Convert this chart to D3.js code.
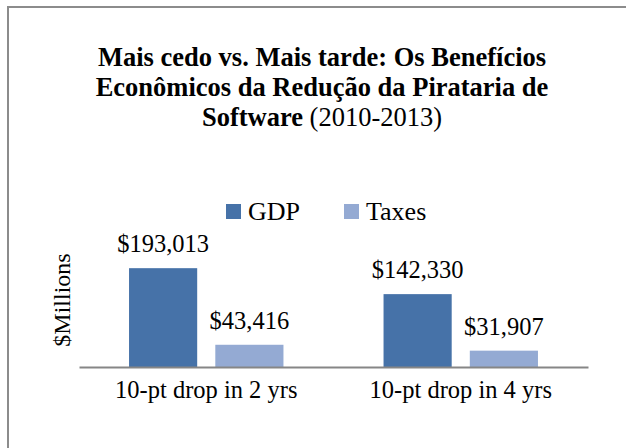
<!DOCTYPE html>
<html>
<head>
<meta charset="utf-8">
<script src="https://cdn.jsdelivr.net/npm/d3@7"></script>
<style>
  body { margin: 0; background: #fff; }
  text { font-family: "Liberation Serif", serif; fill: #000; }
</style>
</head>
<body>
<div id="vis"></div>
<script>
const categorias = ["10-pt drop in 2 yrs", "10-pt drop in 4 yrs"];
const series = ["GDP", "Taxes"];
const valoresGDP = [193013, 142330];
const valoresTaxes = [43416, 31907];
const etiquetas = ["$193,013", "$142,330", "$43,416", "$31,907"];
const colores = ["#4672a8", "#94aad3"];

const WIDTH = 626;
const HEIGHT = 448;

const SVG = d3.select("#vis").append("svg")
  .attr("width", WIDTH)
  .attr("height", HEIGHT);

// marco del grafico (sale del lienzo a la derecha y abajo)
SVG.append("rect")
  .attr("x", 8)
  .attr("y", 7)
  .attr("width", 640)
  .attr("height", 460)
  .attr("fill", "none")
  .attr("stroke", "#8c8c8c")
  .attr("stroke-width", 2);

// titulo
const titulo = SVG.append("text")
  .attr("text-anchor", "middle")
  .style("font-size", "26.5px");

titulo.append("tspan").attr("x", 322).attr("y", 66)
  .style("font-weight", "bold")
  .text("Mais cedo vs. Mais tarde: Os Benefícios");
titulo.append("tspan").attr("x", 322).attr("y", 96)
  .style("font-weight", "bold")
  .text("Econômicos da Redução da Pirataria de");
const linea3 = titulo.append("tspan").attr("x", 322).attr("y", 126);
linea3.append("tspan").style("font-weight", "bold").text("Software");
linea3.append("tspan").text(" (2010-2013)");

const datos = categorias.map((c, i) => ({
  categoria: c,
  valores: [
    { serie: "GDP", valor: valoresGDP[i], etiqueta: etiquetas[i] },
    { serie: "Taxes", valor: valoresTaxes[i], etiqueta: etiquetas[i + 2] }
  ]
}));

const MARGINS = { LEFT: 79, RIGHT: 588, TOP: 239, BOTTOM: 367 };

const escalaX0 = d3.scaleBand()
  .domain(categorias)
  .range([MARGINS.LEFT, MARGINS.RIGHT]);

const escalaX1 = d3.scaleBand()
  .domain(series)
  .range([0, escalaX0.bandwidth()])
  .paddingInner(0.21)
  .paddingOuter(0.58);

const escalaY = d3.scaleLinear()
  .domain([0, 250000])
  .range([MARGINS.BOTTOM, MARGINS.TOP]);

const escalaColor = d3.scaleOrdinal().domain(series).range(colores);

const grupos = SVG.selectAll(".grupo")
  .data(datos)
  .join("g")
  .attr("class", "grupo")
  .attr("transform", d => `translate(${escalaX0(d.categoria)}, 0)`);

grupos.selectAll("rect")
  .data(d => d.valores)
  .join("rect")
  .attr("x", d => escalaX1(d.serie))
  .attr("y", d => escalaY(d.valor))
  .attr("width", escalaX1.bandwidth())
  .attr("height", d => escalaY(0) - escalaY(d.valor))
  .attr("fill", d => escalaColor(d.serie));

grupos.selectAll(".etiqueta")
  .data(d => d.valores)
  .join("text")
  .attr("class", "etiqueta")
  .attr("x", d => escalaX1(d.serie) + escalaX1.bandwidth() / 2)
  .attr("y", d => escalaY(d.valor) - 16)
  .attr("text-anchor", "middle")
  .style("font-size", "24.5px")
  .text(d => d.etiqueta);

// eje X
const ejeX = d3.axisBottom(escalaX0).tickSize(0).tickPadding(14);
const contenedorEjeX = SVG.append("g")
  .attr("transform", `translate(0, ${MARGINS.BOTTOM})`)
  .call(ejeX);
contenedorEjeX.select(".domain")
  .attr("stroke", "#868686")
  .attr("stroke-width", 2);
contenedorEjeX.selectAll("text")
  .style("font-family", "Liberation Serif, serif")
  .style("font-size", "24.5px")
  .attr("fill", "#000");

// titulo eje Y
SVG.append("text")
  .attr("transform", `translate(70, 300) rotate(-90)`)
  .attr("text-anchor", "middle")
  .style("font-size", "24px")
  .text("$Millions");

// leyenda
const leyenda = SVG.selectAll(".leyenda")
  .data(series)
  .join("g")
  .attr("class", "leyenda")
  .attr("transform", (d, i) => `translate(${i === 0 ? 226 : 344}, 204)`);

leyenda.append("rect")
  .attr("width", 15)
  .attr("height", 15)
  .attr("fill", d => escalaColor(d));

leyenda.append("text")
  .attr("x", 22)
  .attr("y", 16)
  .style("font-size", "26px")
  .text(d => d);
</script>
</body>
</html>
